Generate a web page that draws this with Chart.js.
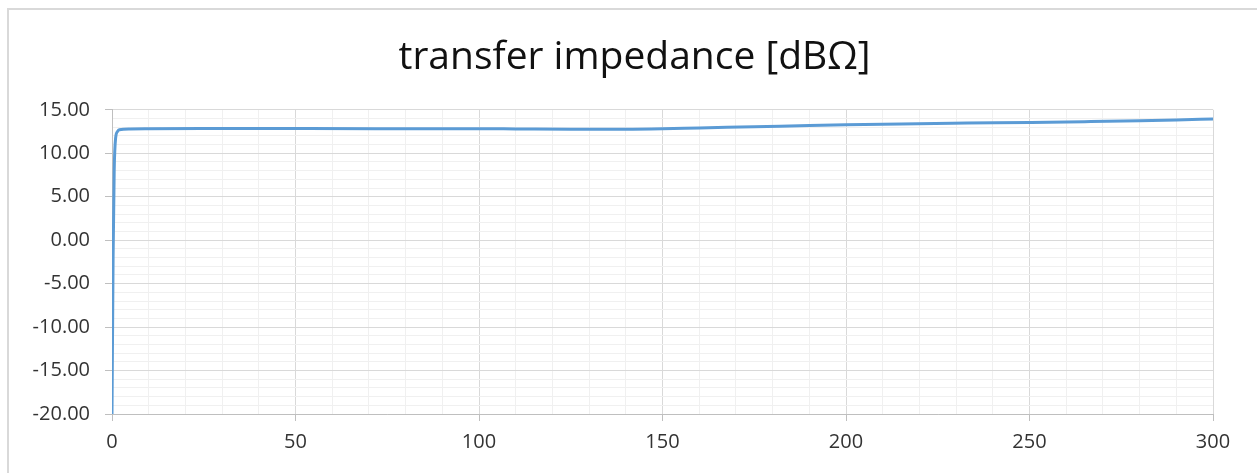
<!DOCTYPE html>
<html>
<head>
<meta charset="utf-8">
<script src="https://cdn.jsdelivr.net/npm/chart.js@4.4.1/dist/chart.umd.min.js"></script>
<style>
  html, body { margin: 0; padding: 0; background: #ffffff; }
  #wrap { position: relative; width: 1257px; height: 473px; overflow: hidden; }
  #frame {
    position: absolute; left: 7px; top: 8px; width: 1300px; height: 500px;
    border-top: 2px solid #d9d9d9; border-left: 2px solid #d9d9d9;
    pointer-events: none;
  }
  canvas { position: absolute; left: 0; top: 0; }
</style>
</head>
<body>
<div id="wrap">
  <canvas id="impedanceChart" width="1257" height="473"></canvas>
  <div id="frame"></div>
</div>
<script>
// frequency axis values and the transfer impedance
const freq = [0, 0.3, 0.6, 1, 1.5, 2, 5, 10, 25, 50, 75, 100, 110, 125, 140, 150,
              160, 175, 190, 200, 215, 233, 250, 265, 280, 290, 300];
const impedance = [-20, -2, 8, 11.8, 12.5, 12.7, 12.8, 12.82, 12.84, 12.84, 12.83, 12.82, 12.8, 12.77, 12.77, 12.82,
                   12.92, 13.05, 13.2, 13.28, 13.38, 13.47, 13.55, 13.63, 13.73, 13.83, 13.95];

const xMajorTicks = [0, 50, 100, 150, 200, 250, 300];
const yMajorTicks = [-20, -15, -10, -5, 0, 5, 10, 15];
const xMinorStep = 10;
const yMinorStep = 1;

const TITLE = 'transfer impedance [dBΩ]';
const FONT = "'Open Sans', 'Liberation Sans', sans-serif";

function minorTicks(majors, step) {
    let list = [];
    let lo = majors[0], hi = majors[majors.length - 1];
    for (let v = lo; v <= hi + 1e-9; v += step) {
        list.push({ value: Math.round(v * 1000) / 1000 });
    }
    return list;
}

function isMajor(majors, v) {
    return majors.some(m => Math.abs(m - v) < 1e-6);
}

const points = freq.map((f, i) => ({ x: f, y: impedance[i] }));

const ctx = document.getElementById('impedanceChart');
const g_chart = new Chart(ctx, {
    type: 'line',
    data: {
        datasets: [{
            label: 'transfer impedance',
            data: points,
            borderColor: '#5b9bd5',
            backgroundColor: '#5b9bd5',
            borderWidth: 3,
            pointRadius: 0,
            fill: false,
            tension: 0.2,
            cubicInterpolationMode: 'monotone'
        }]
    },
    options: {
        responsive: false,
        animation: false,
        // left padding shifts the title centre to match the frame
        layout: { padding: { left: 12, right: 0, top: 0, bottom: 0 } },
        plugins: {
            legend: { display: false },
            tooltip: { enabled: false },
            title: {
                display: true,
                text: TITLE,
                color: '#111111',
                font: { family: FONT, size: 39, weight: 'normal' },
                padding: { top: 34, bottom: 29 }
            }
        },
        scales: {
            x: {
                type: 'linear',
                min: 0,
                max: 300,
                afterBuildTicks: scale => { scale.ticks = minorTicks(xMajorTicks, xMinorStep); },
                afterFit: scale => {
                    scale.height = 59;
                    scale.paddingRight = 44;
                },
                border: { color: '#bfbfbf', width: 1 },
                grid: {
                    color: c => isMajor(xMajorTicks, c.tick.value) ? '#d9d9d9' : '#f0f0f0',
                    tickColor: c => isMajor(xMajorTicks, c.tick.value) ? '#bfbfbf' : 'rgba(0,0,0,0)',
                    tickLength: 7
                },
                ticks: {
                    autoSkip: false,
                    maxRotation: 0,
                    padding: 9,
                    color: '#333333',
                    font: { family: FONT, size: 20 },
                    callback: v => isMajor(xMajorTicks, v) ? String(v) : ''
                }
            },
            y: {
                type: 'linear',
                min: -20,
                max: 15,
                afterBuildTicks: scale => { scale.ticks = minorTicks(yMajorTicks, yMinorStep); },
                afterFit: scale => { scale.width = 100; },
                border: { color: '#bfbfbf', width: 1 },
                grid: {
                    color: c => isMajor(yMajorTicks, c.tick.value) ? '#d9d9d9' : '#f0f0f0',
                    tickColor: c => isMajor(yMajorTicks, c.tick.value) ? '#bfbfbf' : 'rgba(0,0,0,0)',
                    tickLength: 7
                },
                ticks: {
                    autoSkip: false,
                    padding: 15,
                    color: '#333333',
                    font: { family: FONT, size: 20 },
                    callback: v => isMajor(yMajorTicks, v) ? v.toFixed(2) : ''
                }
            }
        }
    }
});
</script>
</body>
</html>
